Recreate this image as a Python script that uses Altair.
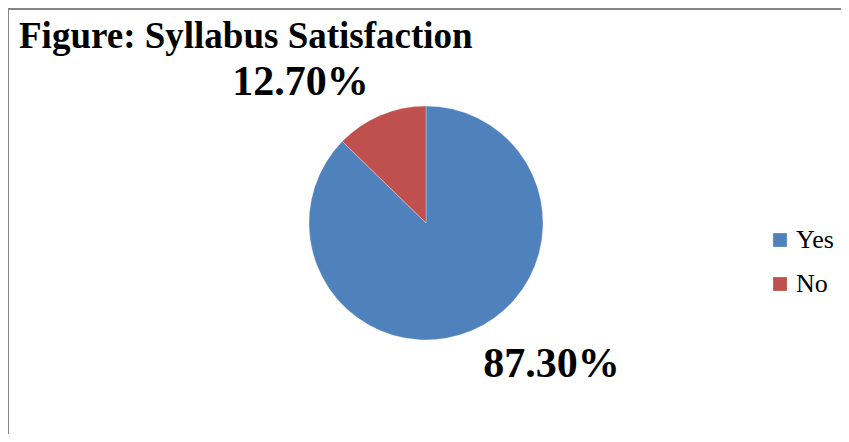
import altair as alt
import pandas as pd

categories = ["Yes", "No"]
values = [87.3, 12.7]
colors = ["#4F81BD", "#C0504D"]
title_text = "Figure: Syllabus Satisfaction"

df = pd.DataFrame({"answer": categories, "pct": values, "idx": list(range(len(categories)))})

W, H = 833, 426
CX, CY, R = 418, 215, 117
LABEL_SHIFT = 0.328  # radians

base = alt.Chart(df).transform_calculate(
    label="format(datum.pct, '.2f') + '%'"
)

color = alt.Color(
    "answer:N",
    scale=alt.Scale(domain=categories, range=colors),
    sort=categories,
    legend=alt.Legend(
        orient="none", legendX=759, legendY=219, title=None,
        symbolType="square", symbolSize=190, symbolStrokeWidth=0,
        labelFont="Liberation Serif", labelFontSize=26, labelColor="black",
        rowPadding=18, labelOffset=3,
    ),
)

pie = base.mark_arc(stroke="white", strokeWidth=0.3).encode(
    theta=alt.Theta("pct:Q", stack=True),
    order=alt.Order("idx:Q"),
    color=color,
    x=alt.value(CX),
    y=alt.value(CY),
    radius=alt.value(R),
)

labels = base.mark_text(
    font="Liberation Serif", fontWeight="bold", fontSize=42, color="black",
    align="center", baseline="middle",
).encode(
    theta=alt.Theta("pct:Q", stack=True,
                    scale=alt.Scale(range=[-LABEL_SHIFT, 6.283185 - LABEL_SHIFT])),
    order=alt.Order("idx:Q"),
    text="label:N",
    x=alt.value(CX),
    y=alt.value(CY),
    radius=alt.value(189),
)

title = alt.Chart(pd.DataFrame({"t": [title_text]})).mark_text(
    font="Liberation Serif", fontWeight="bold", fontSize=37, color="black",
    align="left", baseline="alphabetic",
).encode(text="t:N", x=alt.value(11), y=alt.value(40))

frame_data = pd.DataFrame({"k": [0]})
left_rule = alt.Chart(frame_data).mark_rule(color="#868686", strokeWidth=2).encode(
    x=alt.value(0), y=alt.value(0), y2=alt.value(H)
)
top_rule = alt.Chart(frame_data).mark_rule(color="#868686", strokeWidth=2).encode(
    y=alt.value(1), x=alt.value(0), x2=alt.value(W)
)

chart = alt.layer(pie, labels, title, left_rule, top_rule).resolve_scale(
    theta="independent"
).properties(
    width=W, height=H, padding=0, autosize=alt.AutoSizeParams(type="none"),
    background="white",
).configure_view(strokeWidth=0)

chart.save("out.html", embed_options={"renderer": "svg", "actions": False})
